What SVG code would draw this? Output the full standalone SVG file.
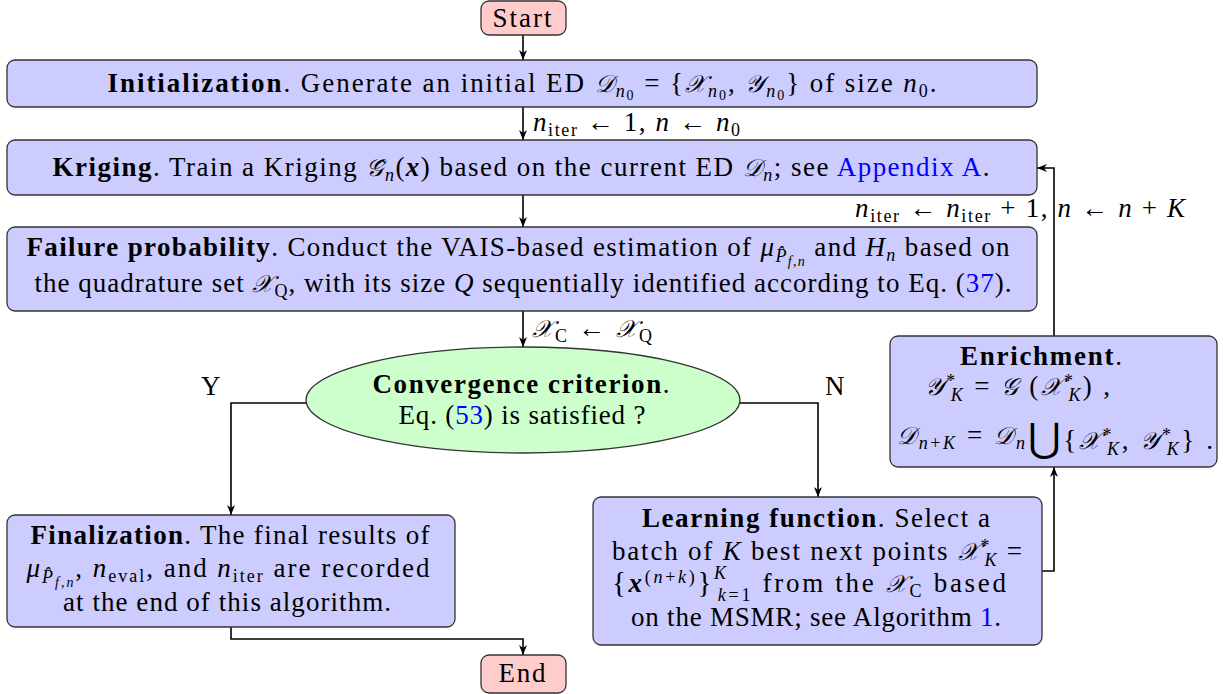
<svg xmlns="http://www.w3.org/2000/svg" width="1223" height="694" viewBox="0 0 1223 694">
<style>
.t{font-family:"Liberation Serif","DejaVu Serif",serif;font-size:27px;fill:#000}
.b{font-weight:bold}
.i{font-style:italic}
.s{font-size:18px}
.ss{font-size:14px}
.lk{fill:#0000ff}
.c{font-family:"DejaVu Serif","DejaVu Sans","Noto Sans",serif;font-style:italic;font-size:24px}
.box{fill:#ccccff;stroke:#333;stroke-width:1.3}
.term{fill:#ffcccc;stroke:#333;stroke-width:1.3}
.dec{fill:#ccffcc;stroke:#333;stroke-width:1.3}
.ln{fill:none;stroke:#000;stroke-width:1.6;marker-end:url(#ah)}
</style>
<defs>
<marker id="ah" viewBox="0 0 10 10" refX="10" refY="5" markerWidth="10" markerHeight="10" markerUnits="userSpaceOnUse" orient="auto">
<path d="M0,1 L10,5 L0,9 L3,5 z" fill="#000"/>
</marker>
</defs>
<g id="connectors">
<path class="ln" d="M523,35 V60"/>
<path class="ln" d="M523,107 V140"/>
<path class="ln" d="M523,195 V227"/>
<path class="ln" d="M523,311 V347"/>
<path class="ln" d="M306,403 H231 V515"/>
<path class="ln" d="M740,403 H818 V497"/>
<path class="ln" d="M231,627 V639 H523 V655"/>
<path class="ln" d="M1042,571 H1054 V467"/>
<path class="ln" d="M1054,336 V168 H1037"/>
<text class="t" x="533" y="131" textLength="207" lengthAdjust="spacing"><tspan class="i">n</tspan><tspan class="s" dy="5">iter</tspan><tspan dy="-5"> ← 1, </tspan><tspan class="i">n</tspan> ← <tspan class="i">n</tspan><tspan class="s" dy="5">0</tspan></text>
<text class="t" x="532" y="337" textLength="120" lengthAdjust="spacing"><tspan class="c">𝒳</tspan><tspan class="s" dy="5">C</tspan><tspan dy="-5"> ← </tspan><tspan class="c">𝒳</tspan><tspan class="s" dy="5">Q</tspan></text>
<text class="t" x="855" y="217" textLength="330" lengthAdjust="spacing"><tspan class="i">n</tspan><tspan class="s" dy="5">iter</tspan><tspan dy="-5"> ← </tspan><tspan class="i">n</tspan><tspan class="s" dy="5">iter</tspan><tspan dy="-5"> + 1, </tspan><tspan class="i">n</tspan> ← <tspan class="i">n</tspan> + <tspan class="i">K</tspan></text>
<text class="t" x="201" y="395">Y</text>
<text class="t" x="825" y="395">N</text>
</g>
<g id="start">
<rect class="term" x="481" y="1" width="85" height="34" rx="8"/>
<text class="t" x="522" y="27" text-anchor="middle" textLength="59" lengthAdjust="spacing">Start</text>
</g>
<g id="init">
<rect class="box" x="7" y="60" width="1030" height="47" rx="8"/>
<text class="t" x="522" y="92" text-anchor="middle" textLength="829" lengthAdjust="spacing"><tspan class="b">Initialization</tspan>. Generate an initial ED <tspan class="c">𝒟</tspan><tspan class="s i" dy="5">n</tspan><tspan class="ss" dy="3">0</tspan><tspan dy="-8">  =  {</tspan><tspan class="c">𝒳</tspan><tspan class="s i" dy="5">n</tspan><tspan class="ss" dy="3">0</tspan><tspan dy="-8">, </tspan><tspan class="c">𝒴</tspan><tspan class="s i" dy="5">n</tspan><tspan class="ss" dy="3">0</tspan><tspan dy="-8">} of size </tspan><tspan class="i">n</tspan><tspan class="s" dy="5">0</tspan><tspan dy="-5">.</tspan></text>
</g>
<g id="kriging">
<rect class="box" x="7" y="140" width="1030" height="55" rx="8"/>
<text class="t" x="521" y="176" text-anchor="middle" textLength="937" lengthAdjust="spacing"><tspan class="b">Kriging</tspan>. Train a Kriging <tspan class="c">𝒢̂</tspan><tspan class="s i" dy="5">n</tspan><tspan dy="-5">(</tspan><tspan class="b i">x</tspan>) based on the current ED <tspan class="c">𝒟</tspan><tspan class="s i" dy="5">n</tspan><tspan dy="-5">; see </tspan><tspan class="lk">Appendix  A</tspan>.</text>
</g>
<g id="failure">
<rect class="box" x="7" y="227" width="1030" height="84" rx="8"/>
<text class="t" x="518" y="256" text-anchor="middle" textLength="983" lengthAdjust="spacing"><tspan class="b">Failure probability</tspan>. Conduct the VAIS-based estimation of <tspan class="i">μ</tspan><tspan class="s i" dy="6">P̂</tspan><tspan class="ss i" dy="4">f,n</tspan><tspan dy="-10">  and </tspan><tspan class="i">H</tspan><tspan class="s i" dy="5">n</tspan><tspan dy="-5"> based on</tspan></text>
<text class="t" x="523" y="292" text-anchor="middle" textLength="977" lengthAdjust="spacing">the quadrature set <tspan class="c">𝒳</tspan><tspan class="s" dy="5">Q</tspan><tspan dy="-5">, with its size </tspan><tspan class="i">Q</tspan> sequentially identified according to Eq. (<tspan class="lk">37</tspan>).</text>
</g>
<g id="convergence">
<ellipse class="dec" cx="523" cy="400" rx="217" ry="53"/>
<text class="t" x="521" y="393" text-anchor="middle" textLength="297" lengthAdjust="spacing"><tspan class="b">Convergence criterion</tspan>.</text>
<text class="t" x="522" y="424" text-anchor="middle" textLength="247" lengthAdjust="spacing">Eq. (<tspan class="lk">53</tspan>) is satisfied ?</text>
</g>
<g id="finalization">
<rect class="box" x="7" y="515" width="448" height="112" rx="8"/>
<text class="t" x="230" y="544" text-anchor="middle" textLength="399" lengthAdjust="spacing"><tspan class="b">Finalization</tspan>. The final results of</text>
<text class="t" x="228" y="577" text-anchor="middle" textLength="403" lengthAdjust="spacing"><tspan class="i">μ</tspan><tspan class="s i" dy="6">P̂</tspan><tspan class="ss i" dy="4">f,n</tspan><tspan dy="-10">, </tspan><tspan class="i">n</tspan><tspan class="s" dy="5">eval</tspan><tspan dy="-5">, and </tspan><tspan class="i">n</tspan><tspan class="s" dy="5">iter</tspan><tspan dy="-5"> are recorded</tspan></text>
<text class="t" x="227" y="611" text-anchor="middle" textLength="328" lengthAdjust="spacing">at the end of this algorithm.</text>
</g>
<g id="learning">
<rect class="box" x="593" y="497" width="449" height="148" rx="8"/>
<text class="t" x="816" y="527" text-anchor="middle" textLength="348" lengthAdjust="spacing"><tspan class="b">Learning function</tspan>. Select a</text>
<text class="t" x="817" y="560" text-anchor="middle" textLength="410" lengthAdjust="spacing">batch of <tspan class="i">K</tspan> best next points <tspan class="c">𝒳</tspan><tspan class="s" dy="-8">*</tspan><tspan class="s i" dx="-7" dy="14">K</tspan><tspan dy="-6"> =</tspan></text>
<text class="t" x="809" y="592" text-anchor="middle" textLength="394" lengthAdjust="spacing"><tspan font-size="29">{</tspan><tspan class="b i">x</tspan><tspan class="s" dy="-9">(</tspan><tspan class="s i">n</tspan><tspan class="s">+</tspan><tspan class="s i">k</tspan><tspan class="s">)</tspan><tspan font-size="29" dy="9">}</tspan><tspan class="s i" dy="-13">K</tspan><tspan class="s" dx="-11" dy="22"><tspan class="i">k</tspan>=1</tspan><tspan dy="-9"> from the </tspan><tspan class="c">𝒳</tspan><tspan class="s" dy="5">C</tspan><tspan dy="-5"> based</tspan></text>
<text class="t" x="816" y="626" text-anchor="middle" textLength="370" lengthAdjust="spacing">on the MSMR; see Algorithm <tspan class="lk">1</tspan>.</text>
</g>
<g id="enrichment">
<rect class="box" x="890" y="336" width="327" height="131" rx="8"/>
<text class="t" x="1041" y="365" text-anchor="middle" textLength="162" lengthAdjust="spacing"><tspan class="b">Enrichment</tspan>.</text>
<text class="t" x="925" y="395" textLength="185" lengthAdjust="spacing"><tspan class="c">𝒴</tspan><tspan class="s" dy="-8">*</tspan><tspan class="s i" dx="-7" dy="14">K</tspan><tspan dy="-6"> = </tspan><tspan class="c">𝒢</tspan> (<tspan class="c">𝒳</tspan><tspan class="s" dy="-8">*</tspan><tspan class="s i" dx="-7" dy="14">K</tspan><tspan dy="-6">) ,</tspan></text>
<text class="t" x="897" y="444" textLength="316" lengthAdjust="spacing"><tspan class="c">𝒟</tspan><tspan class="s" dy="5"><tspan class="i">n</tspan>+<tspan class="i">K</tspan></tspan><tspan dy="-5"> = </tspan><tspan class="c">𝒟</tspan><tspan class="s i" dy="5">n</tspan><tspan font-size="40" dy="3">⋃</tspan><tspan dy="-3">{</tspan><tspan class="c">𝒳</tspan><tspan class="s" dy="-8">*</tspan><tspan class="s i" dx="-7" dy="14">K</tspan><tspan dy="-6">, </tspan><tspan class="c">𝒴</tspan><tspan class="s" dy="-8">*</tspan><tspan class="s i" dx="-7" dy="14">K</tspan><tspan dy="-6">} .</tspan></text>
</g>
<g id="end">
<rect class="term" x="481" y="655" width="85" height="38" rx="8"/>
<text class="t" x="522" y="682" text-anchor="middle" textLength="47" lengthAdjust="spacing">End</text>
</g>
</svg>
